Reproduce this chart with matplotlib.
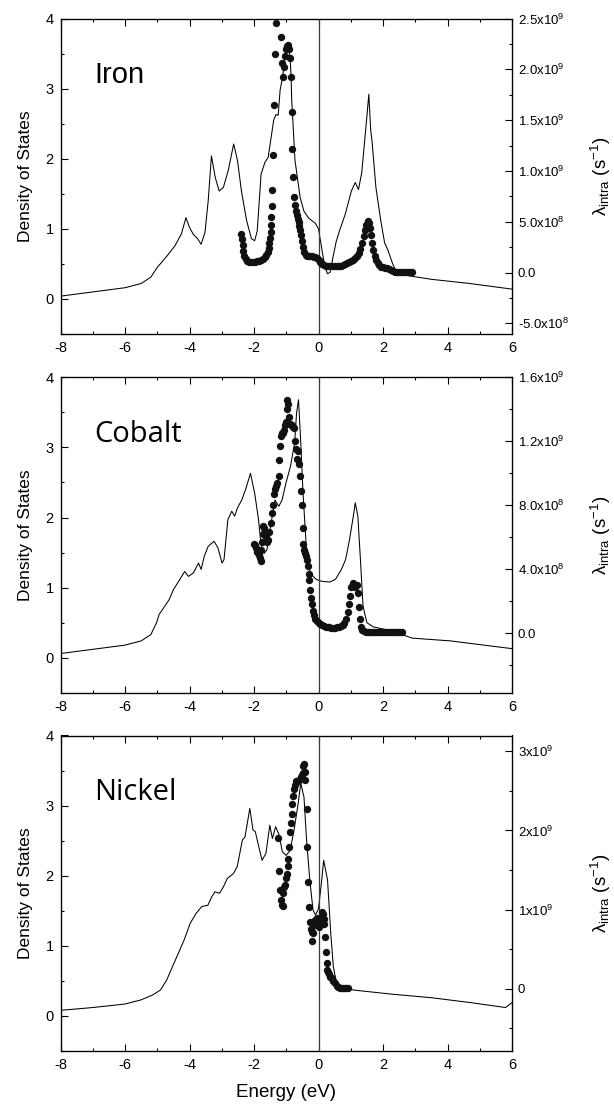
import matplotlib
matplotlib.use('Agg')
import matplotlib.pyplot as plt
from matplotlib.ticker import MultipleLocator, FixedLocator

plt.rcParams['font.family'] = ['Liberation Sans', 'DejaVu Sans']
plt.rcParams['mathtext.fontset'] = 'custom'
plt.rcParams['mathtext.rm'] = 'Liberation Sans'
plt.rcParams['mathtext.it'] = 'Liberation Sans:italic'
plt.rcParams['mathtext.bf'] = 'Liberation Sans:bold'
plt.rcParams['axes.unicode_minus'] = False

# ---------------- Iron ----------------
fe_E = [-8.0, -7.0, -6.0, -5.5, -5.2, -5.0, -4.85, -4.65, -4.45, -4.25, -4.11, -4.0, -3.88, -3.75,
        -3.64, -3.52, -3.42, -3.32, -3.2, -3.08, -2.95, -2.8, -2.63, -2.51, -2.39, -2.23, -2.08,
        -1.98, -1.9, -1.78, -1.66, -1.56, -1.47, -1.39, -1.32, -1.25, -1.19, -1.11, -1.01, -0.94,
        -0.88, -0.85, -0.83, -0.73, -0.57, -0.45, -0.3, -0.1, 0.0, 0.1, 0.2, 0.28, 0.36, 0.45,
        0.55, 0.65, 0.83, 1.02, 1.14, 1.24, 1.34, 1.44, 1.5, 1.56, 1.62, 1.66, 1.78, 1.93, 2.05,
        2.15, 2.3, 2.42, 2.8, 3.5, 4.7, 6.0]
fe_D = [0.04, 0.10, 0.16, 0.22, 0.31, 0.45, 0.53, 0.64, 0.76, 0.93, 1.16, 1.02, 0.92, 0.86,
        0.78, 0.95, 1.40, 2.04, 1.73, 1.54, 1.59, 1.83, 2.21, 1.97, 1.54, 1.12, 0.86,
        0.83, 0.97, 1.78, 1.95, 2.02, 2.30, 2.55, 2.63, 2.62, 2.98, 3.17, 3.55, 3.62,
        3.45, 3.17, 2.84, 1.98, 1.45, 1.25, 1.15, 1.08, 1.0, 0.72, 0.45, 0.36, 0.38, 0.6,
        0.82, 0.97, 1.21, 1.54, 1.66, 1.56, 1.8, 2.3, 2.6, 2.92, 2.4, 2.25, 1.59, 1.12, 0.8,
        0.7, 0.5, 0.38, 0.33, 0.28, 0.22, 0.14]
fe_dotE = [-2.39, -2.37, -2.35, -2.33, -2.30, -2.26, -2.21, -2.15, -2.09, -2.03, -1.97, -1.91,
           -1.85, -1.79, -1.73, -1.67, -1.62, -1.58, -1.55, -1.52, -1.50, -1.48, -1.47, -1.46,
           -1.45, -1.44, -1.42, -1.38, -1.35, -1.32, -1.17, -1.14, -1.11, -1.07, -1.04, -1.01,
           -0.98, -0.95, -0.92, -0.88, -0.86, -0.83, -0.81, -0.78, -0.75, -0.72, -0.70, -0.68,
           -0.65, -0.62, -0.59, -0.56, -0.53, -0.50, -0.47, -0.44, -0.40, -0.35, -0.30, -0.25,
           -0.20, -0.15, -0.10, -0.05, 0.0, 0.04, 0.08, 0.12, 0.17, 0.23, 0.29, 0.35, 0.41,
           0.47, 0.53, 0.59, 0.65, 0.71, 0.77, 0.83, 0.89, 0.95, 1.01, 1.07, 1.13, 1.19, 1.25,
           1.30, 1.35, 1.40, 1.44, 1.48, 1.52, 1.55, 1.58, 1.61, 1.64, 1.67, 1.70, 1.74, 1.78,
           1.83, 1.89, 1.95, 2.01, 2.07, 2.13, 2.19, 2.25, 2.31, 2.37, 2.43, 2.49, 2.55, 2.61,
           2.67, 2.73, 2.79, 2.85, 2.90]
fe_dotL = [0.38, 0.33, 0.27, 0.21, 0.16, 0.13, 0.115, 0.105, 0.10, 0.10, 0.105, 0.11,
           0.115, 0.12, 0.13, 0.15, 0.17, 0.20, 0.24, 0.29, 0.34, 0.40, 0.47, 0.55,
           0.65, 0.81, 1.16, 1.65, 2.15, 2.46, 2.32, 2.06, 1.92, 2.02, 2.13, 2.20,
           2.23, 2.24, 2.20, 2.11, 1.92, 1.58, 1.22, 0.94, 0.74, 0.66, 0.61, 0.57,
           0.53, 0.50, 0.46, 0.42, 0.37, 0.31, 0.25, 0.20, 0.17, 0.165, 0.165, 0.16,
           0.16, 0.155, 0.15, 0.14, 0.125, 0.105, 0.09, 0.08, 0.072, 0.068, 0.066, 0.066, 0.065,
           0.064, 0.063, 0.063, 0.065, 0.068, 0.073, 0.08, 0.09, 0.10, 0.11, 0.125, 0.14, 0.16, 0.19,
           0.23, 0.29, 0.36, 0.42, 0.47, 0.50, 0.51, 0.49, 0.44, 0.37, 0.29, 0.22, 0.16, 0.12,
           0.09, 0.07, 0.058, 0.05, 0.046, 0.042, 0.035, 0.022, 0.012, 0.006, 0.004, 0.003, 0.003, 0.003,
           0.003, 0.003, 0.003, 0.003, 0.003]

# ---------------- Cobalt ----------------
co_E = [-8.0, -7.0, -6.0, -5.5, -5.2, -5.02, -4.94, -4.82, -4.63, -4.5, -4.35, -4.15, -4.03, -3.88,
        -3.72, -3.64, -3.54, -3.42, -3.24, -3.12, -2.99, -2.93, -2.81, -2.69, -2.6, -2.51, -2.38,
        -2.26, -2.11, -1.98, -1.86, -1.78, -1.68, -1.6, -1.47, -1.35, -1.23, -1.13, -1.01, -0.87,
        -0.74, -0.68, -0.62, -0.56, -0.48, -0.38, -0.26, -0.08, 0.1, 0.35, 0.53, 0.71, 0.84, 0.96,
        1.08, 1.14, 1.22, 1.3, 1.38, 1.5, 1.7, 2.3, 2.9, 4.1, 5.3, 6.0]
co_D = [0.06, 0.12, 0.18, 0.24, 0.33, 0.50, 0.62, 0.70, 0.83, 0.97, 1.08, 1.23, 1.16, 1.21,
        1.35, 1.26, 1.45, 1.59, 1.66, 1.57, 1.35, 1.40, 1.97, 2.09, 2.02, 2.14, 2.25,
        2.40, 2.63, 2.35, 1.97, 1.61, 1.49, 1.54, 1.92, 2.25, 2.16, 2.25, 2.49, 2.73,
        3.06, 3.49, 3.68, 3.16, 2.35, 1.59, 1.21, 1.12, 1.09, 1.08, 1.12, 1.26, 1.40, 1.68,
        2.02, 2.21, 2.02, 1.40, 0.74, 0.50, 0.44, 0.38, 0.28, 0.24, 0.17, 0.13]
co_dotE = [-2.0, -1.96, -1.93, -1.9, -1.86, -1.82, -1.79, -1.77, -1.76, -1.73, -1.71, -1.68,
           -1.66, -1.63, -1.59, -1.56, -1.52, -1.48, -1.45, -1.42, -1.38, -1.35, -1.32, -1.28,
           -1.24, -1.22, -1.19, -1.17, -1.14, -1.11, -1.07, -1.04, -1.01, -0.98, -0.97, -0.95,
           -0.92, -0.88, -0.85, -0.82, -0.79, -0.76, -0.73, -0.70, -0.66, -0.63, -0.60, -0.57,
           -0.54, -0.52, -0.49, -0.47, -0.44, -0.42, -0.39, -0.37, -0.34, -0.31, -0.29, -0.26,
           -0.23, -0.2, -0.17, -0.14, -0.1, -0.05, 0.0, 0.05, 0.1, 0.16, 0.22, 0.28, 0.34, 0.40,
           0.46, 0.52, 0.58, 0.64, 0.70, 0.75, 0.80, 0.85, 0.9, 0.94, 0.98, 1.02, 1.06, 1.1, 1.14,
           1.18, 1.22, 1.25, 1.28, 1.31, 1.35, 1.4, 1.46, 1.52, 1.58, 1.64, 1.70, 1.76, 1.82, 1.88,
           1.94, 2.0, 2.06, 2.12, 2.18, 2.24, 2.3, 2.36, 2.42, 2.48, 2.54, 2.6]
co_dotL = [0.56, 0.55, 0.53, 0.51, 0.49, 0.47, 0.45, 0.52, 0.57, 0.62, 0.67, 0.66,
           0.63, 0.60, 0.57, 0.58, 0.63, 0.69, 0.75, 0.80, 0.87, 0.90, 0.92, 0.94,
           0.98, 1.08, 1.17, 1.23, 1.25, 1.25, 1.27, 1.30, 1.32, 1.40, 1.46, 1.43,
           1.35, 1.31, 1.30, 1.30, 1.29, 1.28, 1.20, 1.15, 1.09, 1.14, 1.06, 0.98,
           0.89, 0.80, 0.66, 0.56, 0.52, 0.50, 0.48, 0.46, 0.42, 0.37, 0.33, 0.27,
           0.22, 0.18, 0.14, 0.11, 0.09, 0.075, 0.065, 0.055, 0.05, 0.044, 0.04, 0.037, 0.035, 0.034,
           0.033, 0.033, 0.035, 0.038, 0.044, 0.05, 0.065, 0.09, 0.13, 0.18, 0.23, 0.29, 0.31, 0.30, 0.29,
           0.30, 0.25, 0.16, 0.09, 0.04, 0.02, 0.01, 0.008, 0.006, 0.005, 0.005, 0.005, 0.005, 0.005, 0.005,
           0.005, 0.005, 0.005, 0.005, 0.005, 0.005, 0.005, 0.005, 0.005, 0.005, 0.005, 0.005]

# ---------------- Nickel ----------------
ni_E = [-8.0, -7.0, -6.0, -5.5, -5.14, -4.9, -4.71, -4.53, -4.35, -4.17, -3.98, -3.8, -3.62, -3.43,
        -3.31, -3.21, -3.07, -2.95, -2.83, -2.64, -2.52, -2.44, -2.36, -2.28, -2.13, -2.03, -1.96,
        -1.85, -1.75, -1.63, -1.51, -1.43, -1.33, -1.22, -1.12, -1.0, -0.88, -0.76, -0.63, -0.55,
        -0.45, -0.37, -0.27, -0.17, -0.09, 0.0, 0.1, 0.16, 0.28, 0.38, 0.46, 0.56, 0.7, 1.07, 2.29,
        3.5, 4.72, 5.8, 6.0]
ni_D = [0.08, 0.12, 0.17, 0.23, 0.30, 0.37, 0.51, 0.70, 0.89, 1.08, 1.32, 1.46, 1.56, 1.58,
        1.70, 1.77, 1.75, 1.84, 1.96, 2.03, 2.13, 2.32, 2.51, 2.55, 2.96, 2.65, 2.63,
        2.41, 2.22, 2.32, 2.72, 2.53, 2.70, 2.58, 2.34, 2.29, 2.36, 2.65, 3.03, 3.32,
        3.12, 2.51, 1.94, 1.51, 1.44, 1.53, 1.94, 2.22, 1.94, 1.18, 0.70, 0.47, 0.42, 0.37, 0.31,
        0.26, 0.19, 0.12, 0.19]
ni_dotE = [-1.25, -1.22, -1.19, -1.16, -1.13, -1.11, -1.09, -1.06, -1.04, -1.01, -0.99, -0.96,
           -0.94, -0.90, -0.88, -0.86, -0.83, -0.82, -0.78, -0.75, -0.73, -0.70, -0.67, -0.63,
           -0.59, -0.55, -0.52, -0.49, -0.47, -0.45, -0.43, -0.42, -0.37, -0.35, -0.32, -0.29,
           -0.26, -0.23, -0.21, -0.19, -0.16, -0.13, -0.11, -0.08, -0.04, 0.0, 0.03, 0.05, 0.08,
           0.10, 0.13, 0.16, 0.18, 0.20, 0.23, 0.25, 0.27, 0.30, 0.33, 0.37, 0.41, 0.46, 0.51,
           0.56, 0.61, 0.66, 0.71, 0.76, 0.81, 0.86, 0.91]
ni_dotL = [1.91, 1.49, 1.25, 1.12, 1.06, 1.04, 1.21, 1.28, 1.31, 1.40, 1.45, 1.55,
           1.64, 1.79, 1.98, 2.09, 2.21, 2.34, 2.44, 2.52, 2.57, 2.62, 2.63, 2.63,
           2.64, 2.67, 2.70, 2.72, 2.82, 2.84, 2.74, 2.64, 2.27, 1.79, 1.35, 1.03,
           0.84, 0.76, 0.72, 0.61, 0.70, 0.80, 0.87, 0.84, 0.89, 0.85, 0.78, 0.82, 0.90,
           0.97, 0.95, 0.88, 0.82, 0.66, 0.47, 0.32, 0.24, 0.21, 0.19, 0.15, 0.13, 0.10, 0.07,
           0.04, 0.02, 0.01, 0.005, 0.005, 0.005, 0.005, 0.005]

# right-axis ticks / labels
fe_rticks = [-5e8, 0, 5e8, 1e9, 1.5e9, 2e9, 2.5e9]
fe_rlabels = ['-5.0x10$^{8}$', '0.0', '5.0x10$^{8}$', '1.0x10$^{9}$', '1.5x10$^{9}$',
              '2.0x10$^{9}$', '2.5x10$^{9}$']
co_rticks = [0, 4e8, 8e8, 1.2e9, 1.6e9]
co_rlabels = ['0.0', '4.0x10$^{8}$', '8.0x10$^{8}$', '1.2x10$^{9}$', '1.6x10$^{9}$']
ni_rticks = [0, 1e9, 2e9, 3e9]
ni_rlabels = ['0', '1x10$^{9}$', '2x10$^{9}$', '3x10$^{9}$']

names = ['Iron', 'Cobalt', 'Nickel']
name_fonts = ['Liberation Sans', 'Open Sans', 'Open Sans']
dos_E = [fe_E, co_E, ni_E]
dos_D = [fe_D, co_D, ni_D]
dot_E = [fe_dotE, co_dotE, ni_dotE]
dot_L = [fe_dotL, co_dotL, ni_dotL]
rticks = [fe_rticks, co_rticks, ni_rticks]
rlabels = [fe_rlabels, co_rlabels, ni_rlabels]
rlims = [(-6.05e8, 2.5e9), (-3.74e8, 1.6e9), (-7.86e8, 3.2e9)]
rminor = [2.5e8, 2e8, 5e8]

W, H = 614, 1105
fig = plt.figure(figsize=(W / 100, H / 100), dpi=100)
left_px, width_px, height_px = 60.5, 451.5, 315.5
tops = [18.5, 377.3, 735.5]

for i in range(3):
    ax = fig.add_axes([left_px / W, 1 - (tops[i] + height_px) / H, width_px / W, height_px / H])
    ax.plot(dos_E[i], dos_D[i], color='black', lw=0.75)
    ax.axvline(0, color='#3a3a3a', lw=0.9)
    ax.set_xlim(-8, 6)
    ax.set_ylim(-0.5, 4)
    ax.xaxis.set_major_locator(MultipleLocator(2))
    ax.xaxis.set_minor_locator(MultipleLocator(1))
    ax.yaxis.set_major_locator(FixedLocator([0, 1, 2, 3, 4]))
    ax.yaxis.set_minor_locator(MultipleLocator(0.5))
    ax.tick_params(which='both', direction='in', top=True, right=False, width=0.8)
    ax.tick_params(which='major', length=5, labelsize=10.5, pad=5)
    ax.tick_params(which='minor', length=2.5)
    for s in ax.spines.values():
        s.set_linewidth(0.9)
    ax.set_ylabel('Density of States', fontsize=12.5)
    ax.yaxis.set_label_coords(-0.062, 0.5)
    ax.text(-6.96, 3.08, names[i], fontsize=21, family=[name_fonts[i], 'DejaVu Sans'],
            va='baseline', ha='left')

    ax2 = ax.twinx()
    ax2.plot(dot_E[i], [v * 1e9 for v in dot_L[i]], 'o', color='#111111', ms=5.3,
             mec='none')
    ax2.set_ylim(*rlims[i])
    ax2.yaxis.set_major_locator(FixedLocator(rticks[i]))
    ax2.set_yticklabels(rlabels[i])
    ax2.yaxis.set_minor_locator(MultipleLocator(rminor[i]))
    ax2.tick_params(which='both', direction='in', width=0.8)
    ax2.tick_params(which='major', length=5, labelsize=9.5, pad=4)
    ax2.tick_params(which='minor', length=2.5)
    ax2.set_ylabel('λ$_{\\mathrm{intra}}$ (s$^{-1}$)', fontsize=13.5)
    ax2.yaxis.set_label_coords(1.17, 0.5)
    ax2.set_xlim(-8, 6)

    if i == 2:
        ax.set_xlabel('Energy (eV)', fontsize=13.5)
        ax.xaxis.set_label_coords(0.5, -0.105)

fig.savefig('out.png', dpi=100)
